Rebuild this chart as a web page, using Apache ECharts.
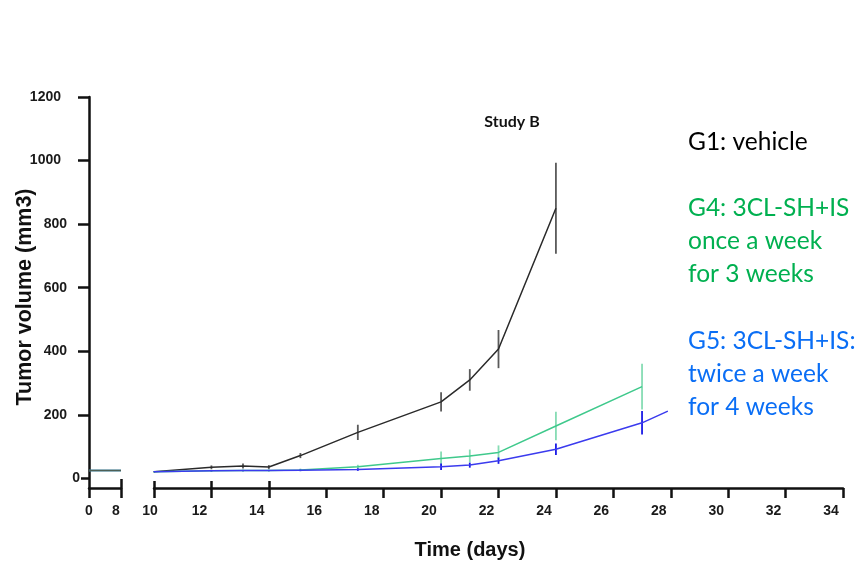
<!DOCTYPE html>
<html><head><meta charset="utf-8">
<script src="https://cdn.jsdelivr.net/npm/echarts@6/dist/echarts.min.js"></script>
<style>html,body{margin:0;padding:0;background:#fff}#c{width:856px;height:562px}</style>
</head><body><div id="c"></div>
<script>
// ---- data ----
const earlyDays = [0, 8];
const earlyG1 = [25, 25];
const earlyG4 = [25, 25];
const earlyG5 = [25, 25];

const daysG1 = [10, 12, 13.1, 14, 15.1, 17.1, 20, 21, 22, 24];
const meanG1 = [21, 35, 39, 36, 72, 145, 241, 310, 407, 850];
const errG1  = [2, 6, 8, 6, 8, 24, 30, 34, 60, 143];

const daysG4 = [10, 12, 13.1, 14, 15.1, 17.1, 20, 21, 22, 24, 27];
const meanG4 = [21, 24, 25, 25, 27, 37, 63, 71, 82, 165, 289];
const errG4  = [2, 3, 3, 3, 4, 6, 22, 20, 22, 45, 72];

const daysG5 = [10, 12, 13.1, 14, 15.1, 17.1, 20, 21, 22, 24, 27, 27.9];
const meanG5 = [21, 24, 25, 25, 26, 28, 37, 42, 56, 92, 175, 212];
const errG5  = [1, 2, 2, 2, 3, 4, 10, 8, 10, 18, 37, 0];

const yTicks = [0, 200, 400, 600, 800, 1000, 1200];
const xTicksLeft = [0, 8];
const xTicksRight = [10, 12, 14, 16, 18, 20, 22, 24, 26, 28, 30, 32, 34];

const legendG1 = ['G1: vehicle'];
const legendG4 = ['G4: 3CL-SH+IS', 'once a week', 'for 3 weeks'];
const legendG5 = ['G5: 3CL-SH+IS:', 'twice a week', 'for 4 weeks'];

// ---- styles ----
const C1 = '#2a2a2a', C1e = '#5a5a5a';
const C4 = '#3fc98c', C4e = '#86dcb4';
const C5 = '#3b3bee', C5e = '#1a1ae6';
const AX = '#111';
const axFont = {fontFamily: 'Liberation Sans, Arial, sans-serif', fontWeight: 'bold', fontSize: 14, color: '#1a1a1a', lineHeight: 15};

const zip = (a, b) => a.map((v, i) => [v, b[i]]);
const zip3 = (a, b, c) => a.map((v, i) => [v, b[i], c[i]]);

function errSeries(days, mean, err, color) {
  return {
    type: 'custom', xAxisIndex: 2, yAxisIndex: 2, z: 3,
    data: zip3(days, mean, err),
    renderItem: function (params, api) {
      const x = api.value(0), m = api.value(1), e = api.value(2);
      if (!e) return null;
      const p1 = api.coord([x, m - e]);
      const p2 = api.coord([x, m + e]);
      return {type: 'line', shape: {x1: p1[0], y1: p1[1], x2: p2[0], y2: p2[1]},
              style: {stroke: color, lineWidth: 1.8}};
    }
  };
}
function lineSeries(xi, yi, data, color, z) {
  return {type: 'line', xAxisIndex: xi, yAxisIndex: yi, data: data, symbol: 'none',
          lineStyle: {color: color, width: 1.5}, itemStyle: {color: color}, z: z || 2, animation: false};
}

const chart = echarts.init(document.getElementById('c'), null, {renderer: 'canvas'});
const yBase = {type: 'value', min: -30, max: 1200, splitLine: {show: false}};
chart.setOption({
  animation: false,
  backgroundColor: '#fff',
  grid: [
    {left: 89, width: 32, top: 97, height: 391, outerBoundsMode: 'none', containLabel: false},
    {left: 154, width: 689, top: 97, height: 391, outerBoundsMode: 'none', containLabel: false}
  ],
  yAxis: [
    Object.assign({}, yBase, {gridIndex: 0, position: 'left',
      axisLine: {show: true, lineStyle: {color: AX, width: 2.5}},
      axisTick: {show: true, length: 11, customValues: yTicks.filter(v => v !== 0), lineStyle: {color: AX, width: 2.5}},
      axisLabel: Object.assign({}, axFont, {show: true, margin: 9, customValues: yTicks,
        formatter: v => v === 0 ? '{z|0}' : (v >= 1000 ? '{w|' + v + '}' : '{n|' + v + '}'),
        rich: {z: Object.assign({}, axFont), n: Object.assign({}, axFont, {padding: [0, 13, 0, 0]}), w: Object.assign({}, axFont, {padding: [0, 19, 0, 0]})}
      })}),
    Object.assign({}, yBase, {gridIndex: 0, position: 'left',
      axisLine: {show: false}, axisLabel: {show: false},
      axisTick: {show: true, length: 8, customValues: [0], lineStyle: {color: AX, width: 2.5}}}),
    Object.assign({}, yBase, {gridIndex: 1, show: false})
  ],
  xAxis: [
    {type: 'value', gridIndex: 0, position: 'bottom', min: 0, max: 8, interval: 8, splitLine: {show: false},
      axisLine: {show: true, onZero: false, lineStyle: {color: AX, width: 2.5}},
      axisTick: {show: true, length: 10, customValues: xTicksLeft, lineStyle: {color: AX, width: 2.5}},
      axisLabel: Object.assign({}, axFont, {margin: 16, customValues: xTicksLeft,
        formatter: v => v === 8 ? '{c|8}' : '{d|' + v + '}',
        rich: {c: Object.assign({}, axFont, {padding: [0, 10, 0, 0]}), d: Object.assign({}, axFont)}})},
    {type: 'value', gridIndex: 0, position: 'bottom', min: 0, max: 8, splitLine: {show: false},
      axisLine: {show: false, onZero: false}, axisLabel: {show: false},
      axisTick: {show: true, inside: true, length: 9, customValues: [8], lineStyle: {color: AX, width: 2.5}}},
    {type: 'value', gridIndex: 1, position: 'bottom', min: 10, max: 34, interval: 2, splitLine: {show: false},
      axisLine: {show: true, onZero: false, lineStyle: {color: AX, width: 2.5}},
      axisTick: {show: true, length: 10, customValues: xTicksRight, lineStyle: {color: AX, width: 2.5}},
      axisLabel: Object.assign({}, axFont, {margin: 16, customValues: xTicksRight,
        formatter: v => v === 10 ? '{a|10}' : '{b|' + v + '}',
        rich: {a: Object.assign({}, axFont, {padding: [0, 8, 0, 0]}), b: Object.assign({}, axFont, {padding: [0, 24, 0, 0]})}})},
    {type: 'value', gridIndex: 1, position: 'bottom', min: 10, max: 34, splitLine: {show: false},
      axisLine: {show: false, onZero: false}, axisLabel: {show: false},
      axisTick: {show: true, inside: true, length: 7, customValues: [10, 12, 14], lineStyle: {color: AX, width: 2.5}}}
  ],
  series: [
    lineSeries(0, 0, zip(earlyDays, earlyG5), C5, 2),
    lineSeries(0, 0, zip(earlyDays, earlyG4), C4, 2),
    lineSeries(0, 0, zip(earlyDays, earlyG1), '#4d5f55', 2),
    errSeries(daysG1, meanG1, errG1, C1e),
    errSeries(daysG4, meanG4, errG4, C4e),
    errSeries(daysG5, meanG5, errG5, C5e),
    lineSeries(2, 2, zip(daysG1, meanG1), C1, 4),
    lineSeries(2, 2, zip(daysG4, meanG4), C4, 4),
    lineSeries(2, 2, zip(daysG5, meanG5), C5, 5)
  ],
  graphic: [
    {type: 'text', x: 25, y: 297, rotation: Math.PI / 2,
      style: {text: 'Tumor volume (mm3)', fill: '#111', font: 'bold 21.5px "Liberation Sans", Arial, sans-serif', align: 'center', verticalAlign: 'middle'}},
    {type: 'text', x: 470, y: 550,
      style: {text: 'Time (days)', fill: '#111', font: 'bold 20px "Liberation Sans", Arial, sans-serif', align: 'center', verticalAlign: 'middle'}},
    {type: 'text', x: 512, y: 122,
      style: {text: 'Study B', fill: '#111', font: 'bold 16px Lato, "Liberation Sans", sans-serif', align: 'center', verticalAlign: 'middle'}},
    {type: 'text', x: 688, y: 126,
      style: {text: legendG1.join('\n'), fill: '#000', font: '24.5px Lato, "Liberation Sans", sans-serif', lineHeight: 33, align: 'left', verticalAlign: 'top'}},
    {type: 'text', x: 688, y: 192,
      style: {text: legendG4.join('\n'), fill: '#00b050', font: '24.5px Lato, "Liberation Sans", sans-serif', lineHeight: 33, align: 'left', verticalAlign: 'top'}},
    {type: 'text', x: 688, y: 325,
      style: {text: legendG5.join('\n'), fill: '#0a6ef5', font: '24.5px Lato, "Liberation Sans", sans-serif', lineHeight: 33, align: 'left', verticalAlign: 'top'}}
  ]
});
</script></body></html>
